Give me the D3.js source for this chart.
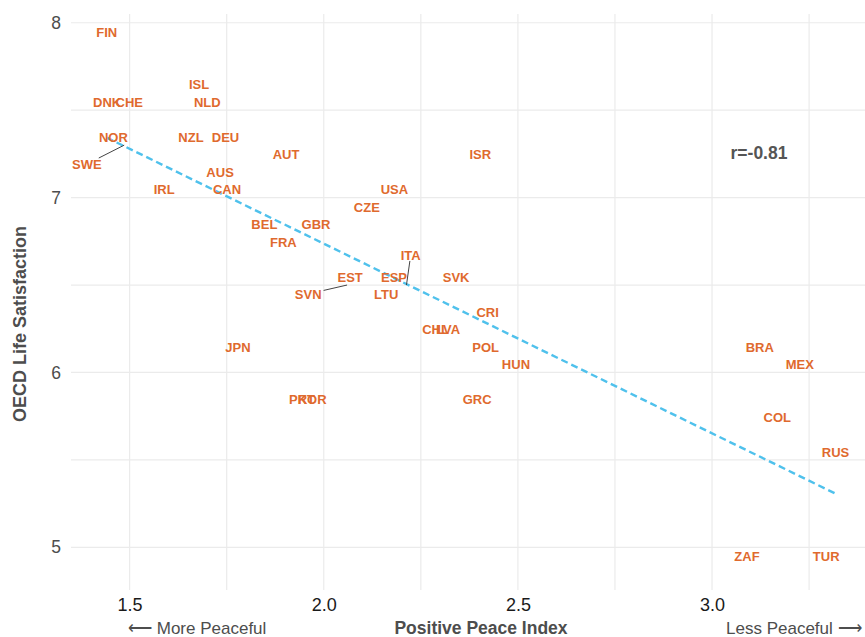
<!DOCTYPE html>
<html>
<head>
<meta charset="utf-8">
<script src="https://cdn.jsdelivr.net/npm/d3@7"></script>
<style>
  body { margin: 0; background: #fff; }
  svg { font-family: "Liberation Sans", Arial, sans-serif; }
</style>
</head>
<body>
<svg width="865" height="637"></svg>
<script>
// countries and their values
var countries = ["FIN","DNK","CHE","ISL","NLD","NOR","NZL","DEU","SWE","AUT","AUS","IRL","CAN",
                 "BEL","FRA","GBR","USA","CZE","ITA","ESP","EST","SVN","LTU","SVK","ISR","CRI",
                 "CHL","LVA","POL","HUN","PRT","KOR","GRC","JPN","BRA","MEX","COL","RUS","ZAF","TUR"];
var ppi = [1.441,1.442,1.499,1.679,1.700,1.458,1.658,1.747,1.486,1.903,1.733,1.589,1.751,
           1.847,1.896,1.980,2.182,2.111,2.213,2.181,2.068,2.060,2.161,2.341,2.403,2.422,
           2.288,2.320,2.417,2.495,1.944,1.970,2.395,1.779,3.123,3.226,3.168,3.318,3.090,3.294];
var lifeSat = [7.9,7.5,7.5,7.6,7.5,7.3,7.3,7.3,7.3,7.2,7.1,7.0,7.0,
               6.8,6.7,6.8,7.0,6.9,6.5,6.5,6.5,6.5,6.4,6.5,7.2,6.3,
               6.2,6.2,6.1,6.0,5.8,5.8,5.8,6.1,6.1,6.0,5.7,5.5,4.9,4.9];
// labels pushed away from their points (label centre, data units)
var repelled = ["SWE","ITA","SVN"];
var repelX = [1.390, 2.224, 1.960];
var repelY = [7.192, 6.672, 6.449];

var xTicks = [1.5, 2.0, 2.5, 3.0];
var xGrid = [1.5, 1.75, 2.0, 2.25, 2.5, 2.75, 3.0, 3.25];
var yTicks = [5, 6, 7, 8];
var yGrid = [5, 5.5, 6, 6.5, 7, 7.5, 8];
var corrLabel = "r=-0.81";

var svg = d3.select("svg");
var pLeft = 71, pRight = 865, pTop = 14, pBottom = 590;

var x = d3.scaleLinear().domain([1.349, 3.394]).range([pLeft, pRight]);
var y = d3.scaleLinear().domain([4.756, 8.05]).range([pBottom, pTop]);

var data = countries.map(function(c, i) { return {name: c, x: ppi[i], y: lifeSat[i]}; });

// grid
svg.append("g").selectAll("line").data(yGrid).enter().append("line")
   .attr("x1", pLeft).attr("x2", pRight)
   .attr("y1", function(d) { return y(d); }).attr("y2", function(d) { return y(d); })
   .attr("stroke", "#ebebeb").attr("stroke-width", 1.2);
svg.append("g").selectAll("line").data(xGrid).enter().append("line")
   .attr("y1", pTop).attr("y2", pBottom)
   .attr("x1", function(d) { return x(d); }).attr("x2", function(d) { return x(d); })
   .attr("stroke", "#ebebeb").attr("stroke-width", 1.2);

// axes (labels only)
var xAxis = svg.append("g")
   .attr("transform", "translate(0," + (pBottom + 4) + ")")
   .call(d3.axisBottom(x).tickValues(xTicks).tickFormat(d3.format(".1f")).tickSize(0).tickPadding(4));
xAxis.select(".domain").remove();
xAxis.selectAll("text").attr("font-size", 18).attr("fill", "#1a1a1a")
   .attr("font-family", "Liberation Sans, Arial, sans-serif");

var yAxis = svg.append("g")
   .attr("transform", "translate(" + (pLeft - 8) + ",0)")
   .call(d3.axisLeft(y).tickValues(yTicks).tickFormat(d3.format("d")).tickSize(0).tickPadding(2));
yAxis.select(".domain").remove();
yAxis.selectAll("text").attr("font-size", 17.5).attr("fill", "#4d4d4d")
   .attr("font-family", "Liberation Sans, Arial, sans-serif");

// regression line over the range of the data
var mx = d3.mean(data, function(d) { return d.x; }),
    my = d3.mean(data, function(d) { return d.y; });
var sxy = d3.sum(data, function(d) { return (d.x - mx) * (d.y - my); }),
    sxx = d3.sum(data, function(d) { return (d.x - mx) * (d.x - mx); });
var slope = sxy / sxx, icpt = my - slope * mx;
var xr = d3.extent(data, function(d) { return d.x; });
svg.append("line")
   .attr("x1", x(xr[0])).attr("y1", y(icpt + slope * xr[0]))
   .attr("x2", x(xr[1])).attr("y2", y(icpt + slope * xr[1]))
   .attr("stroke", "#4fc1ec").attr("stroke-width", 2.4)
   .attr("stroke-dasharray", "7,4");

// labels
var labelColor = "#df6a2e";
var lab = svg.append("g");
data.forEach(function(d) {
  var r = repelled.indexOf(d.name);
  var cx = r < 0 ? x(d.x) : x(repelX[r]);
  var cy = r < 0 ? y(d.y) - 8 : y(repelY[r]);
  var t = lab.append("text")
     .attr("x", cx).attr("y", cy).attr("dy", "0.36em")
     .attr("text-anchor", "middle")
     .attr("font-size", 13).attr("font-weight", "bold")
     .attr("fill", labelColor)
     .text(d.name);
  if (r >= 0) {
    var px = x(d.x), py = y(d.y);
    var bb = t.node().getBBox();
    var hw = bb.width / 2 + 2, hh = 6;
    var dx = px - cx, dy = py - cy;
    var s = Math.min(Math.abs(dx) > 0 ? hw / Math.abs(dx) : 1e9, Math.abs(dy) > 0 ? hh / Math.abs(dy) : 1e9);
    svg.append("line")
       .attr("x1", cx + dx * s).attr("y1", cy + dy * s)
       .attr("x2", px).attr("y2", py)
       .attr("stroke", "#444").attr("stroke-width", 1);
  }
});

svg.append("text")
   .attr("x", 759).attr("y", 159)
   .attr("text-anchor", "middle")
   .attr("font-size", 17.5).attr("font-weight", "bold").attr("fill", "#555")
   .text(corrLabel);

// axis titles
svg.append("text")
   .attr("x", 481).attr("y", 634)
   .attr("text-anchor", "middle")
   .attr("font-size", 17.5).attr("font-weight", "bold").attr("fill", "#4d4d4d")
   .text("Positive Peace Index");
svg.append("text")
   .attr("x", 128).attr("y", 634)
   .attr("font-size", 17).attr("fill", "#4d4d4d")
   .text("\u27F5 More Peaceful");
svg.append("text")
   .attr("x", 726).attr("y", 634)
   .attr("font-size", 17).attr("fill", "#4d4d4d")
   .text("Less Peaceful \u27F6");
svg.append("text")
   .attr("transform", "translate(26,324) rotate(-90)")
   .attr("text-anchor", "middle")
   .attr("font-size", 18).attr("font-weight", "bold").attr("fill", "#4d4d4d")
   .text("OECD Life Satisfaction");
</script>
</body>
</html>
